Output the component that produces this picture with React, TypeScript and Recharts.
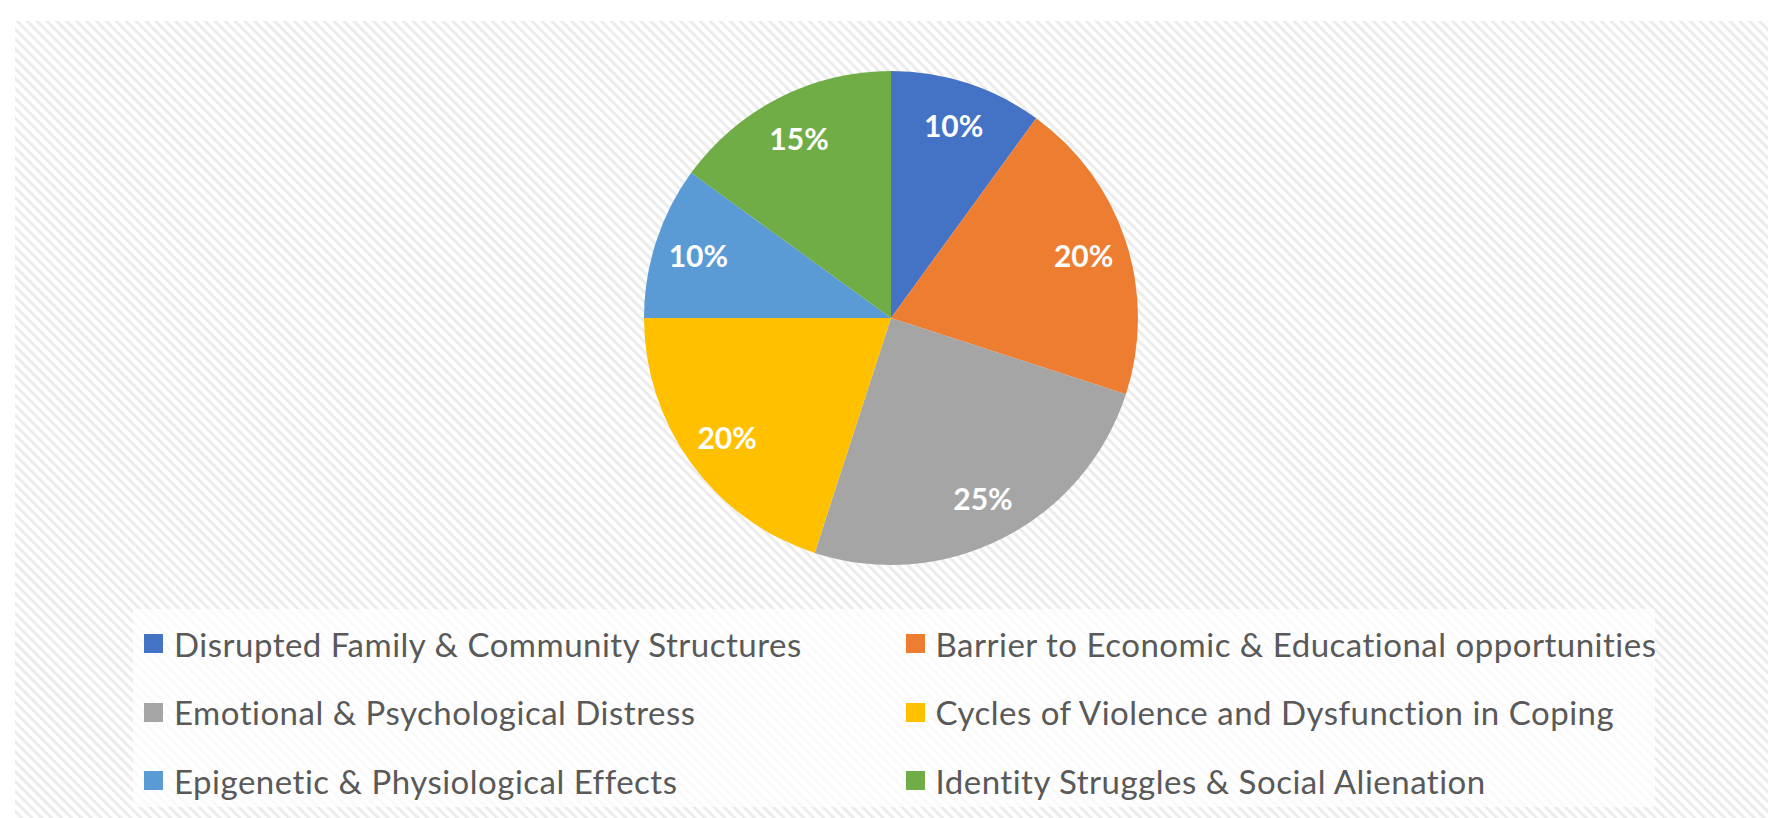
import React from "react";
import { PieChart, Pie, Cell, Legend } from "recharts";

const categories = [
  "Disrupted Family & Community Structures",
  "Barrier to Economic & Educational opportunities",
  "Emotional & Psychological Distress",
  "Cycles of Violence and Dysfunction in Coping",
  "Epigenetic & Physiological Effects",
  "Identity Struggles & Social Alienation",
];
const values = [10, 20, 25, 20, 10, 15];
const colors = ["#4472C4", "#ED7D31", "#A5A5A5", "#FFC000", "#5B9BD5", "#70AD47"];

const data = categories.map((name, i) => ({ name, value: values[i] }));
const RAD = Math.PI / 180;

const renderLabel = (props: any) => {
  const { cx, cy, midAngle, outerRadius, value } = props;
  const r = outerRadius * 0.82;
  const x = cx + r * Math.cos(-midAngle * RAD);
  const y = cy + r * Math.sin(-midAngle * RAD);
  return (
    <text
      x={x}
      y={y}
      fill="#ffffff"
      textAnchor="middle"
      dominantBaseline="central"
      fontFamily="Lato, 'Open Sans', sans-serif"
      fontWeight={700}
      fontSize={30}
    >
      {`${value}%`}
    </text>
  );
};

const renderLegend = (props: any) => {
  const payload = [...(props.payload || [])].sort(
    (a: any, b: any) => categories.indexOf(a.value) - categories.indexOf(b.value)
  );
  return (
    <div style={{ position: "relative", width: 1522, height: 198 }}>
      {payload.map((entry: any, i: number) => {
        const col = i % 2;
        const row = Math.floor(i / 2);
        return (
          <div
            key={i}
            style={{
              position: "absolute",
              left: 11 + col * 761.5,
              top: 34.5 + row * 68.5 - 20,
              height: 40,
              display: "flex",
              alignItems: "center",
              whiteSpace: "nowrap",
              fontFamily: "Lato, 'Open Sans', sans-serif",
              fontSize: 33,
              letterSpacing: 0.5,
              color: "#595959",
            }}
          >
            <span
              style={{
                display: "inline-block",
                width: 19,
                height: 19,
                background: entry.color,
                marginRight: 11,
              }}
            />
            <span>{entry.value}</span>
          </div>
        );
      })}
    </div>
  );
};

export default function App() {
  return (
    <div style={{ position: "relative", width: 1768, height: 818, background: "#ffffff", overflow: "hidden" }}>
      <style>{"body{margin:0;}"}</style>
      <div
        style={{
          position: "absolute",
          left: 15,
          top: 21,
          width: 1753,
          height: 797,
          background:
            "repeating-linear-gradient(45deg, #ffffff 0px, #ffffff 3px, #ececec 4px, #ececec 6px, #ffffff 7px)",
        }}
      />
      <div
        style={{
          position: "absolute",
          left: 133,
          top: 609,
          width: 1522,
          height: 198,
          background: "rgba(255,255,255,0.75)",
        }}
      />
      <div style={{ position: "absolute", left: 0, top: 0 }}>
        <PieChart width={1768} height={818} margin={{ top: 0, right: 0, bottom: 0, left: 0 }}>
          <Pie
            data={data}
            dataKey="value"
            nameKey="name"
            cx={891}
            cy={318}
            outerRadius={247}
            startAngle={90}
            endAngle={-270}
            stroke="none"
            label={renderLabel}
            labelLine={false}
            isAnimationActive={false}
          >
            {data.map((d, i) => (
              <Cell key={d.name} fill={colors[i]} />
            ))}
          </Pie>
          <Legend
            content={renderLegend}
            wrapperStyle={{ position: "absolute", left: 133, top: 609, width: 1522, height: 198 }}
          />
        </PieChart>
      </div>
    </div>
  );
}
